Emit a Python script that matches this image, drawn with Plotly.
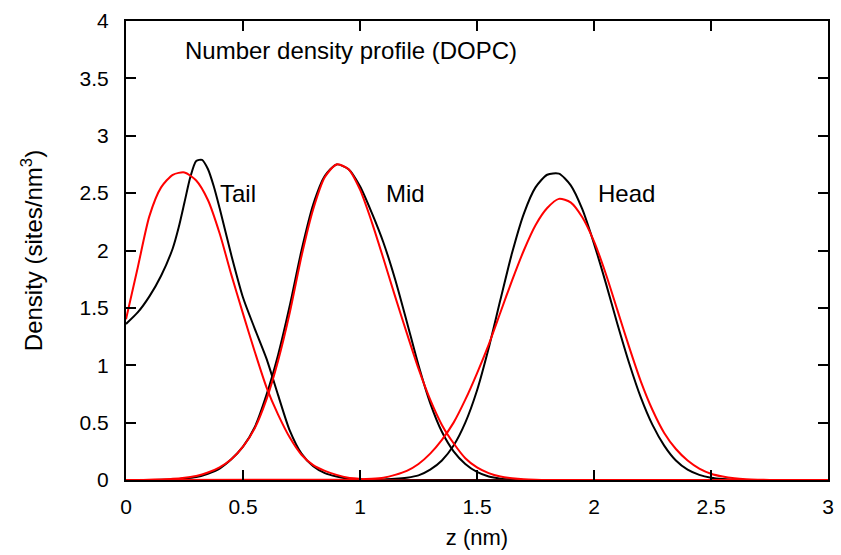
import plotly.graph_objects as go

# ---- data ----
z_tail_b = [0.0, 0.05, 0.1, 0.15, 0.2, 0.225, 0.25, 0.275, 0.3, 0.325, 0.35, 0.375, 0.4, 0.45, 0.5,
            0.55, 0.6, 0.65, 0.7, 0.75, 0.8, 0.85, 0.9, 0.95, 1.0, 1.05, 3.0]
tail_black = [1.36, 1.46, 1.60, 1.78, 2.02, 2.20, 2.42, 2.64, 2.78, 2.79, 2.71, 2.56, 2.37, 1.96, 1.59,
              1.32, 1.06, 0.74, 0.43, 0.23, 0.12, 0.06, 0.03, 0.01, 0.0, 0.0, 0.0]
z_tail = [0.0, 0.05, 0.1, 0.15, 0.2, 0.25, 0.3, 0.35, 0.4, 0.45, 0.5, 0.55, 0.6, 0.65, 0.7,
          0.75, 0.8, 0.85, 0.9, 0.95, 1.0, 1.05, 3.0]
tail_red = [1.40, 1.85, 2.30, 2.55, 2.66, 2.68, 2.61, 2.44, 2.15, 1.79, 1.45, 1.12, 0.81, 0.57, 0.37,
            0.22, 0.13, 0.08, 0.045, 0.02, 0.01, 0.0, 0.0]

z_mid = [0.0, 0.05, 0.1, 0.15, 0.2, 0.25, 0.3, 0.35, 0.4, 0.45, 0.5, 0.55, 0.6, 0.65, 0.7, 0.75,
         0.8, 0.85, 0.9, 0.95, 1.0, 1.05, 1.1, 1.15, 1.2, 1.25, 1.3, 1.35, 1.4, 1.45, 1.5, 1.55,
         1.6, 1.65, 1.7, 1.75, 1.8, 3.0]
mid_black = [0.0, 0.0, 0.0, 0.002, 0.005, 0.012, 0.025, 0.055, 0.10, 0.18, 0.29, 0.46, 0.74, 1.09, 1.52, 2.00,
             2.40, 2.65, 2.75, 2.71, 2.56, 2.33, 2.07, 1.75, 1.38, 1.00, 0.67, 0.42, 0.25, 0.14, 0.07, 0.03,
             0.012, 0.005, 0.0, 0.0, 0.0, 0.0]
mid_red = [0.0, 0.0, 0.002, 0.005, 0.01, 0.02, 0.035, 0.065, 0.11, 0.18, 0.29, 0.45, 0.70, 1.04, 1.46, 1.95,
           2.36, 2.64, 2.75, 2.71, 2.53, 2.25, 1.93, 1.60, 1.28, 0.97, 0.70, 0.48, 0.32, 0.19, 0.11, 0.06,
           0.03, 0.015, 0.006, 0.002, 0.0, 0.0]

z_head = [0.0, 1.0, 1.05, 1.1, 1.15, 1.2, 1.25, 1.3, 1.35, 1.4, 1.45, 1.5, 1.55, 1.6, 1.65, 1.7, 1.75,
          1.8, 1.85, 1.9, 1.95, 2.0, 2.05, 2.1, 2.15, 2.2, 2.25, 2.3, 2.35, 2.4, 2.45, 2.5, 2.55,
          2.6, 2.65, 2.7, 2.75, 2.8, 3.0]
head_black = [0.0, 0.0, 0.0, 0.005, 0.01, 0.02, 0.04, 0.09, 0.17, 0.30, 0.50, 0.78, 1.15, 1.57, 1.98, 2.32, 2.55,
              2.66, 2.67, 2.57, 2.36, 2.06, 1.72, 1.36, 1.02, 0.72, 0.48, 0.30, 0.17, 0.09, 0.045, 0.02, 0.008,
              0.003, 0.0, 0.0, 0.0, 0.0, 0.0]
head_red = [0.0, 0.005, 0.01, 0.02, 0.045, 0.08, 0.14, 0.23, 0.35, 0.50, 0.70, 0.93, 1.18, 1.46, 1.74, 2.00, 2.22,
            2.37, 2.45, 2.42, 2.29, 2.08, 1.80, 1.48, 1.16, 0.86, 0.61, 0.41, 0.27, 0.17, 0.10, 0.055, 0.03,
            0.015, 0.007, 0.003, 0.001, 0.0, 0.0]

labels = ["Tail", "Mid", "Head"]
label_x = [0.393, 1.103, 2.009]
label_y = [2.50, 2.50, 2.50]
title_text = "Number density profile (DOPC)"

FONT = "Liberation Sans, Arial, Helvetica, sans-serif"
BLACK = "#000000"
RED = "#ff0000"

fig = go.Figure()
for zs, ys, col in [(z_tail_b, tail_black, BLACK), (z_mid, mid_black, BLACK), (z_head, head_black, BLACK),
                    (z_tail, tail_red, RED), (z_mid, mid_red, RED), (z_head, head_red, RED)]:
    fig.add_trace(go.Scatter(x=zs, y=ys, mode="lines",
                             line=dict(color=col, width=2, shape="spline", smoothing=0.7),
                             showlegend=False, hoverinfo="skip", cliponaxis=True))

for t, x, y in zip(labels, label_x, label_y):
    fig.add_annotation(x=x, y=y, xref="x", yref="y", text=t, showarrow=False,
                       xanchor="left", yanchor="middle", font=dict(size=24, color="black", family=FONT))
fig.add_annotation(x=0.244, y=3.745, xref="x", yref="y", text=title_text, showarrow=False,
                   xanchor="left", yanchor="middle", font=dict(size=24, color="black", family=FONT))

axis_common = dict(showline=True, linecolor="black", linewidth=2, mirror="ticks",
                   ticks="inside", ticklen=10, tickwidth=1.5, tickcolor="black",
                   showgrid=False, zeroline=False,
                   tickfont=dict(size=21, color="black", family=FONT))

fig.update_xaxes(range=[0, 3], dtick=0.5, tick0=0,
                 title=dict(text="z (nm)", font=dict(size=22, color="black", family=FONT), standoff=12),
                 ticklabelstandoff=7, **axis_common)
fig.update_yaxes(range=[0, 4], dtick=0.5, tick0=0,
                 title=dict(text="Density (sites/nm<sup>3</sup>)", font=dict(size=24, color="black", family=FONT),
                            standoff=30),
                 ticklabelstandoff=11, **axis_common)

fig.update_layout(width=841, height=555, margin=dict(l=126, r=13, t=21, b=75, autoexpand=False),
                  plot_bgcolor="white", paper_bgcolor="white",
                  font=dict(family=FONT, color="black"))

fig.write_html("out.html")
